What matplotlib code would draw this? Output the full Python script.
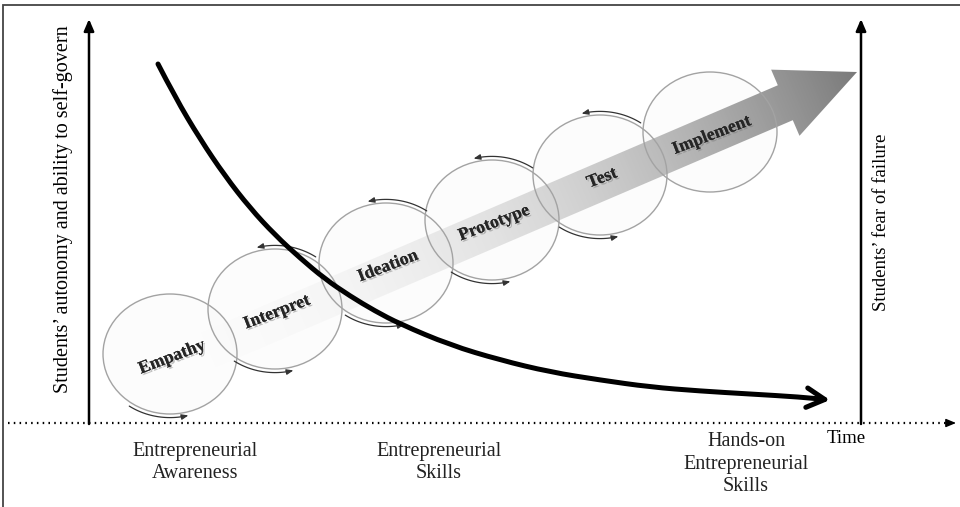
import numpy as np
import matplotlib
matplotlib.use('Agg')
import matplotlib.pyplot as plt
import matplotlib.patheffects as pe
from matplotlib.patches import Ellipse, Polygon, FancyArrowPatch
from matplotlib.path import Path

plt.rcParams['font.family'] = ['Liberation Serif', 'DejaVu Serif']

# stages of the design thinking cycle (circle centres in pixel space)
stage_names = ['Empathy', 'Interpret', 'Ideation', 'Prototype', 'Test', 'Implement']
stage_x = [170, 275, 386, 492, 600, 710]
stage_y = [354, 309, 263, 220, 175, 132]

# fear of failure curve
fear_x = [158, 175, 200, 225, 250, 275, 300, 325, 350, 375, 400, 450, 500,
          550, 600, 650, 700, 750, 800, 830]
fear_y = [64, 97, 139, 176, 208, 235, 258, 279, 296, 311, 324, 345, 360,
          372, 380, 387, 391, 394, 397, 400]

phase_labels = ['Entrepreneurial\nAwareness', 'Entrepreneurial\nSkills',
                'Hands-on\nEntrepreneurial\nSkills']
phase_x = [195, 439, 746]
phase_y = [442, 442, 432]

left_label = 'Students\u2019 autonomy and ability to self-govern'
right_label = 'Students\u2019 fear of failure'

fig = plt.figure(figsize=(9.6, 5.07), dpi=100)
ax = fig.add_axes([0, 0, 1, 1])
ax.set_xlim(0, 960)
ax.set_ylim(507, 0)
ax.axis('off')

# frame
ax.plot([3, 3, 960], [507, 5, 5], color='#444444', lw=1.3, solid_joinstyle='miter')

# circles (fill underneath, outline on top of the big arrow)
for x, y in zip(stage_x, stage_y):
    ax.add_patch(Ellipse((x, y), 134, 120, fc='#f7f7f7', ec='none', alpha=0.35, zorder=1))
    ax.add_patch(Ellipse((x, y), 134, 120, fc='none', ec='#a3a3a3', lw=1.0, zorder=3))

# big gradient arrow
tip = np.array([857.0, 72.0])
tail = np.array([150.0, 375.0])
L = np.linalg.norm(tip - tail)
u = (tip - tail) / L
n = np.array([-u[1], u[0]])
base = tip - 78 * u
hw, hh = 19, 36
pts = [tail + hw * n, base + hw * n, base + hh * n, tip,
       base - hh * n, base - hw * n, tail - hw * n]
poly = Polygon(pts, closed=True, fc='none', ec='none')
ax.add_patch(poly)
xs = np.linspace(130, 870, 700)
ys = np.linspace(50, 420, 350)
X, Y = np.meshgrid(xs, ys)
t = np.clip(((X - tail[0]) * u[0] + (Y - tail[1]) * u[1]) / L, 0, 1)
rgba = np.zeros(X.shape + (4,))
rgba[..., :3] = 0.46
rgba[..., 3] = np.clip(0.97 * t ** 2.2, 0, 1)
im = ax.imshow(rgba, extent=(130, 870, 420, 50), origin='upper',
               aspect='auto', zorder=2, interpolation='bilinear')
im.set_clip_path(poly)

# small curved arrows around the circles
rx, ry = 67 * 1.06, 60 * 1.06
for i in range(5):
    a = np.radians(np.linspace(125, 75, 30))
    arc = np.column_stack([stage_x[i] + rx * np.cos(a), stage_y[i] + ry * np.sin(a)])
    ax.add_patch(FancyArrowPatch(path=Path(arc), arrowstyle='-|>,head_length=4,head_width=1.6',
                                 color='#333333', lw=0.9, zorder=4))
for i in range(1, 5):
    a = np.radians(np.linspace(-55, -105, 30))
    arc = np.column_stack([stage_x[i] + rx * np.cos(a), stage_y[i] + ry * np.sin(a)])
    ax.add_patch(FancyArrowPatch(path=Path(arc), arrowstyle='-|>,head_length=4,head_width=1.6',
                                 color='#333333', lw=0.9, zorder=4))

# fear of failure curve, smoothed with quadratic segments through midpoints
p = np.column_stack([fear_x, fear_y]).astype(float)
verts = [p[0]]
codes = [Path.MOVETO]
for i in range(1, len(p) - 1):
    verts += [p[i], (p[i] + p[i + 1]) / 2]
    codes += [Path.CURVE3, Path.CURVE3]
verts.append(p[-1])
codes.append(Path.LINETO)
ax.add_patch(FancyArrowPatch(path=Path(verts, codes),
                             arrowstyle='->,head_length=13,head_width=7',
                             color='black', lw=3.6, zorder=5))

# stage labels
shadow = [pe.withSimplePatchShadow(offset=(1.2, -1.2), shadow_rgbFace='#777777', alpha=0.45),
          pe.Normal()]
for name, x, y in zip(stage_names, stage_x, stage_y):
    ax.text(x + 2, y + 3, name, fontsize=12.8, fontweight='bold', color='#262626',
            rotation=21, rotation_mode='anchor', ha='center', va='center',
            zorder=6, path_effects=shadow)

# axes
arrow_kw = dict(arrowstyle='-|>,head_length=0.7,head_width=0.3', lw=1.8,
                color='black', shrinkA=0, shrinkB=0)
ax.annotate('', xy=(89, 19), xytext=(89, 424), arrowprops=arrow_kw)
ax.annotate('', xy=(861, 19), xytext=(861, 424), arrowprops=arrow_kw)
ax.plot([8, 946], [423, 423], color='black', lw=1.6, ls=(0, (0.7, 1.9)))
ax.annotate('', xy=(956, 423), xytext=(946, 423),
            arrowprops=dict(arrowstyle='-|>,head_length=0.6,head_width=0.25', lw=1,
                            color='black', shrinkA=0, shrinkB=0))

ax.text(63, 209, left_label, rotation=90, fontsize=14.5, ha='center', va='center')
ax.text(882, 222, right_label, rotation=90, fontsize=13.5, ha='center', va='center')

for lab, x, y in zip(phase_labels, phase_x, phase_y):
    ax.text(x, y, lab, fontsize=14.5, ha='center', va='top', linespacing=1.25,
            color='#222222')
ax.text(846, 430, 'Time', fontsize=13.5, ha='center', va='top')

fig.savefig('out.png', dpi=100)
